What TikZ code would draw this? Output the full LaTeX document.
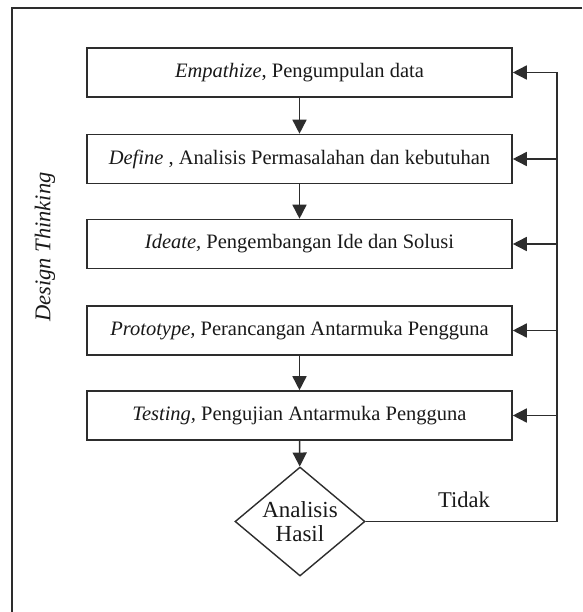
\documentclass[tikz,border=0pt]{standalone}
\usepackage{fontspec}
\setmainfont{Liberation Serif}
\usetikzlibrary{arrows.meta,shapes.geometric}
\definecolor{lc}{RGB}{45,45,45}
\definecolor{tc}{RGB}{25,25,25}
\tikzset{
  stepbox/.style={draw=lc, line width=1.6pt, minimum width=425pt, minimum height=49pt, inner sep=0pt, text=tc, font=\fontsize{20.5}{25}\selectfont},
  decide/.style={draw=lc, line width=1.4pt, shape=diamond, aspect=1.2, inner sep=0pt, minimum width=130pt, minimum height=109pt, align=center, text=tc, font=\fontsize{23}{24}\selectfont},
  conn/.style={draw=lc, line width=1.6pt},
  arr/.style={conn, -{Triangle[length=14pt,width=14pt]}},
  lbl/.style={text=tc, font=\fontsize{22.5}{25}\selectfont}
}
\begin{document}
\begin{tikzpicture}[x=1pt,y=-1pt]
\useasboundingbox (0,0) rectangle (582,612);
\fill[white] (0,0) rectangle (582,612);
% outer frame (partially outside the page)
\draw[lc, line width=1.8pt] (582,8) -- (12,8) -- (12,612);

\node[stepbox] (b1) at (299.5,72.5) {\textit{Empathize}, Pengumpulan data};
\node[stepbox] (b2) at (299.5,159) {\textit{Define} , Analisis Permasalahan dan kebutuhan};
\node[stepbox] (b3) at (299.5,244) {\textit{Ideate,} Pengembangan Ide dan Solusi};
\node[stepbox] (b4) at (299.5,330.5) {\textit{Prototype,} Perancangan Antarmuka Pengguna};
\node[stepbox] (b5) at (299.5,415.5) {\textit{Testing,} Pengujian Antarmuka Pengguna};
\node[decide] (d) at (300,521.5) {Analisis\\Hasil};

\node[lbl, rotate=90] (dt) at (45,247) {\textit{Design Thinking}};
\node[lbl] (tidak) at (464,500) {Tidak};

\draw[arr] (b1) -- (b2);
\draw[arr] (b2) -- (b3);
\draw[arr] (b4) -- (b5);
\draw[arr] (b5) -- (d);

\coordinate (fb) at (557,0);
\draw[conn] (d.east) -- (d.east -| fb) -- (b1.east -| fb);
\draw[arr] (b1.east -| fb) -- (b1.east);
\draw[arr] (b2.east -| fb) -- (b2.east);
\draw[arr] (b3.east -| fb) -- (b3.east);
\draw[arr] (b4.east -| fb) -- (b4.east);
\draw[arr] (b5.east -| fb) -- (b5.east);
\end{tikzpicture}
\end{document}
